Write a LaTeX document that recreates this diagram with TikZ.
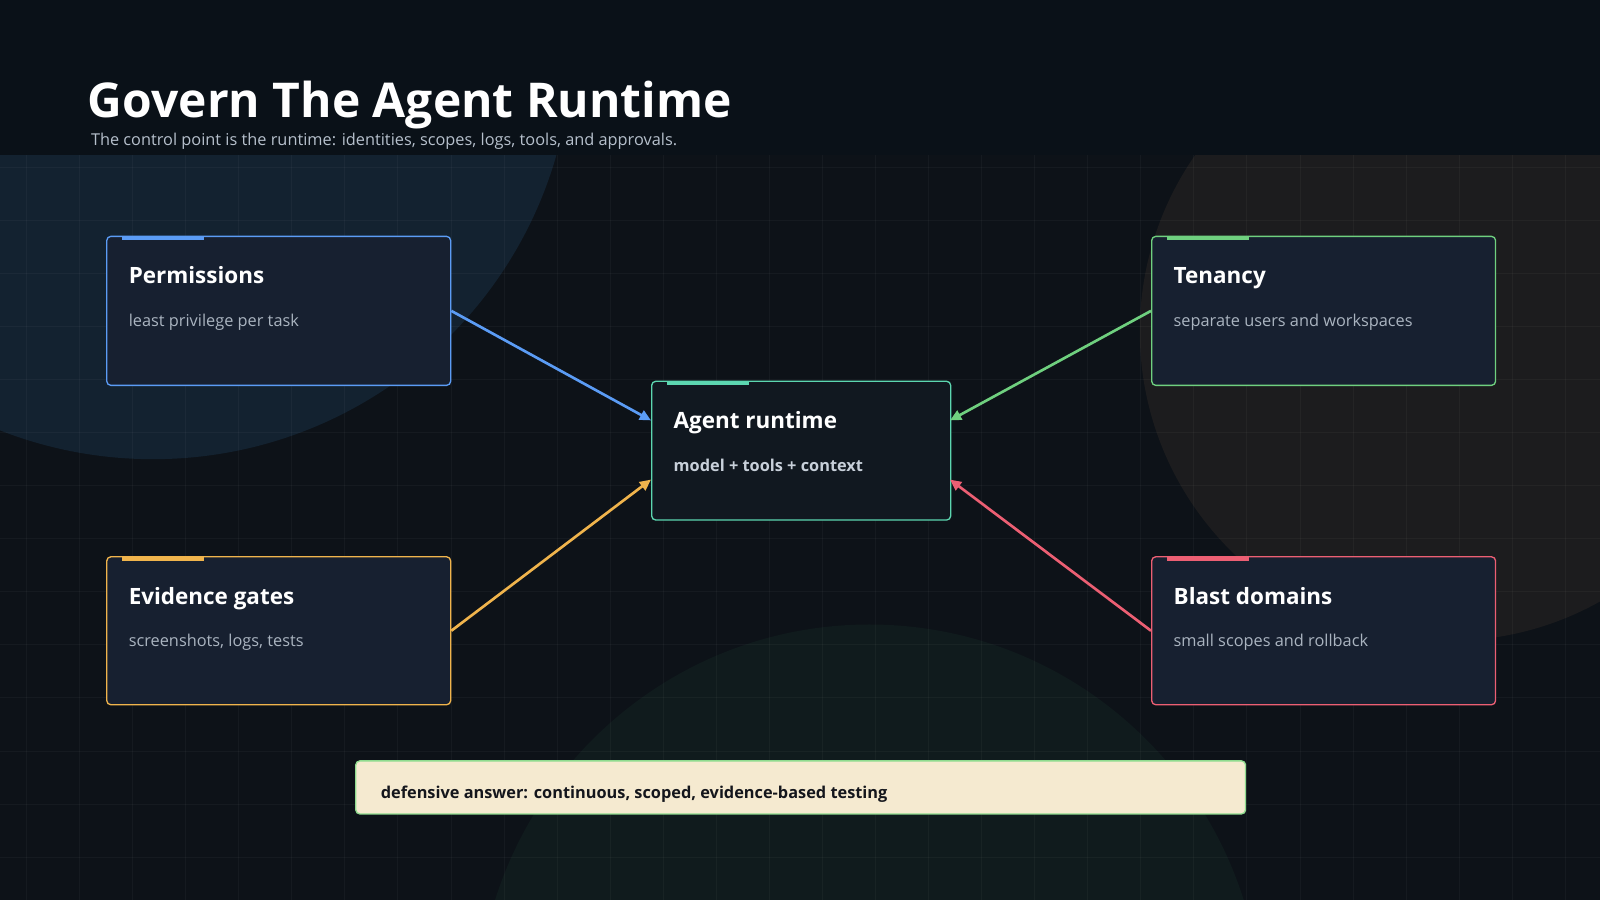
\documentclass[tikz,border=0pt]{standalone}
\usepackage{fontspec}
\setmainfont{Open Sans}
\usetikzlibrary{arrows.meta}
\definecolor{bg}{HTML}{0D1218}
\definecolor{hdr}{HTML}{0A1118}
\definecolor{boxfill}{HTML}{172030}
\definecolor{cfill}{HTML}{111820}
\definecolor{cblue}{HTML}{5B9CF5}
\definecolor{cgreen}{HTML}{6FD07F}
\definecolor{corange}{HTML}{F0B44C}
\definecolor{cred}{HTML}{EC5F73}
\definecolor{cteal}{HTML}{5CD6B0}
\definecolor{subt}{HTML}{AAB4C0}
\definecolor{subt2}{HTML}{B6C0CC}
\definecolor{subt3}{HTML}{C8D0DA}
\definecolor{notefill}{HTML}{F5EAD0}
\definecolor{noteborder}{HTML}{8FDC8F}
\definecolor{notetext}{HTML}{14161C}
\definecolor{circA}{HTML}{132230}
\definecolor{circB}{HTML}{1C1C1E}
\definecolor{circC}{HTML}{101B1D}
\tikzset{
 box/.style={draw=#1, line width=1.3pt, fill=boxfill, rounded corners=4pt},
 ttl/.style={anchor=base west, inner sep=0, text=white, font=\fontsize{22}{28}\selectfont\bfseries},
 sub/.style={anchor=base west, inner sep=0, text=subt, font=\fontsize{16}{20}\selectfont},
 arr/.style={draw=#1, line width=2.6pt, -{Triangle[length=11pt,width=10pt]}},
}
\begin{document}
\begin{tikzpicture}[x=1pt,y=-1pt]
\useasboundingbox (0,0) rectangle (1568,882);
\fill[bg] (0,0) rectangle (1568,882);
\begin{scope}
\clip (0,152) rectangle (1568,882);
\fill[circA] (150,39) circle (411);
\fill[circB] (1420,325) circle (303);
\fill[circC] (852,1000) ellipse (385 and 388);
\foreach \x in {26,78,...,1568} \draw[white,opacity=0.035,line width=1pt] (\x,152) -- (\x,882);
\foreach \y in {164,216,...,882} \draw[white,opacity=0.035,line width=1pt] (0,\y) -- (1568,\y);
\end{scope}
\fill[hdr] (0,0) rectangle (1568,152);
\node[anchor=base west, text=white, font=\fontsize{47}{60}\selectfont\bfseries, inner sep=0] (title) at (86,115) {Govern The Agent Runtime};
\node[anchor=base west, text=subt2, font=\fontsize{16}{20}\selectfont, inner sep=0] (subtitle) at (89,143) {The control point is the runtime: identities, scopes, logs, tools, and approvals.};
% boxes
\node[box=cblue, minimum width=337pt, minimum height=146pt, anchor=north west] (perm) at (104,231) {};
\node[box=cgreen, minimum width=337pt, minimum height=146pt, anchor=north west] (ten) at (1128,231) {};
\node[box=corange, minimum width=337pt, minimum height=145pt, anchor=north west] (evi) at (104,545) {};
\node[box=cred, minimum width=337pt, minimum height=145pt, anchor=north west] (bla) at (1128,545) {};
\node[draw=cteal, line width=1.3pt, fill=cfill, rounded corners=4pt, minimum width=293pt, minimum height=136pt, anchor=north west] (agent) at (638,373) {};
\fill[cblue] (120,231) rectangle (200,235.5);
\fill[cgreen] (1144,231) rectangle (1224,235.5);
\fill[corange] (120,545) rectangle (200,549.5);
\fill[cred] (1144,545) rectangle (1224,549.5);
\fill[cteal] (654,373) rectangle (734,377.5);
\node[ttl] at (126,278) {Permissions};
\node[sub] at (126,320) {least privilege per task};
\node[ttl] at (1150,278) {Tenancy};
\node[sub] at (1150,320) {separate users and workspaces};
\node[ttl] at (126,592) {Evidence gates};
\node[sub] at (126,634) {screenshots, logs, tests};
\node[ttl] at (1150,592) {Blast domains};
\node[sub] at (1150,634) {small scopes and rollback};
\node[ttl] at (660,420) {Agent runtime};
\node[anchor=base west, inner sep=0, text=subt3, font=\fontsize{16}{20}\selectfont\bfseries] at (660,462) {model + tools + context};
% arrows
\coordinate (a1) at (638,412); \coordinate (a2) at (931,412);
\coordinate (a3) at (638,470); \coordinate (a4) at (931,470);
\draw[arr=cblue] (perm.east) -- (a1);
\draw[arr=cgreen] (ten.west) -- (a2);
\draw[arr=corange] (evi.east) -- (a3);
\draw[arr=cred] (bla.west) -- (a4);
% note
\node[draw=noteborder, line width=1.3pt, fill=notefill, rounded corners=4pt, minimum width=872pt, minimum height=52pt, anchor=north west] (note) at (348,745) {};
\node[anchor=base west, inner sep=0, text=notetext, font=\fontsize{16}{20}\selectfont\bfseries] at (373,783) {defensive answer: continuous, scoped, evidence-based testing};
\end{tikzpicture}
\end{document}
